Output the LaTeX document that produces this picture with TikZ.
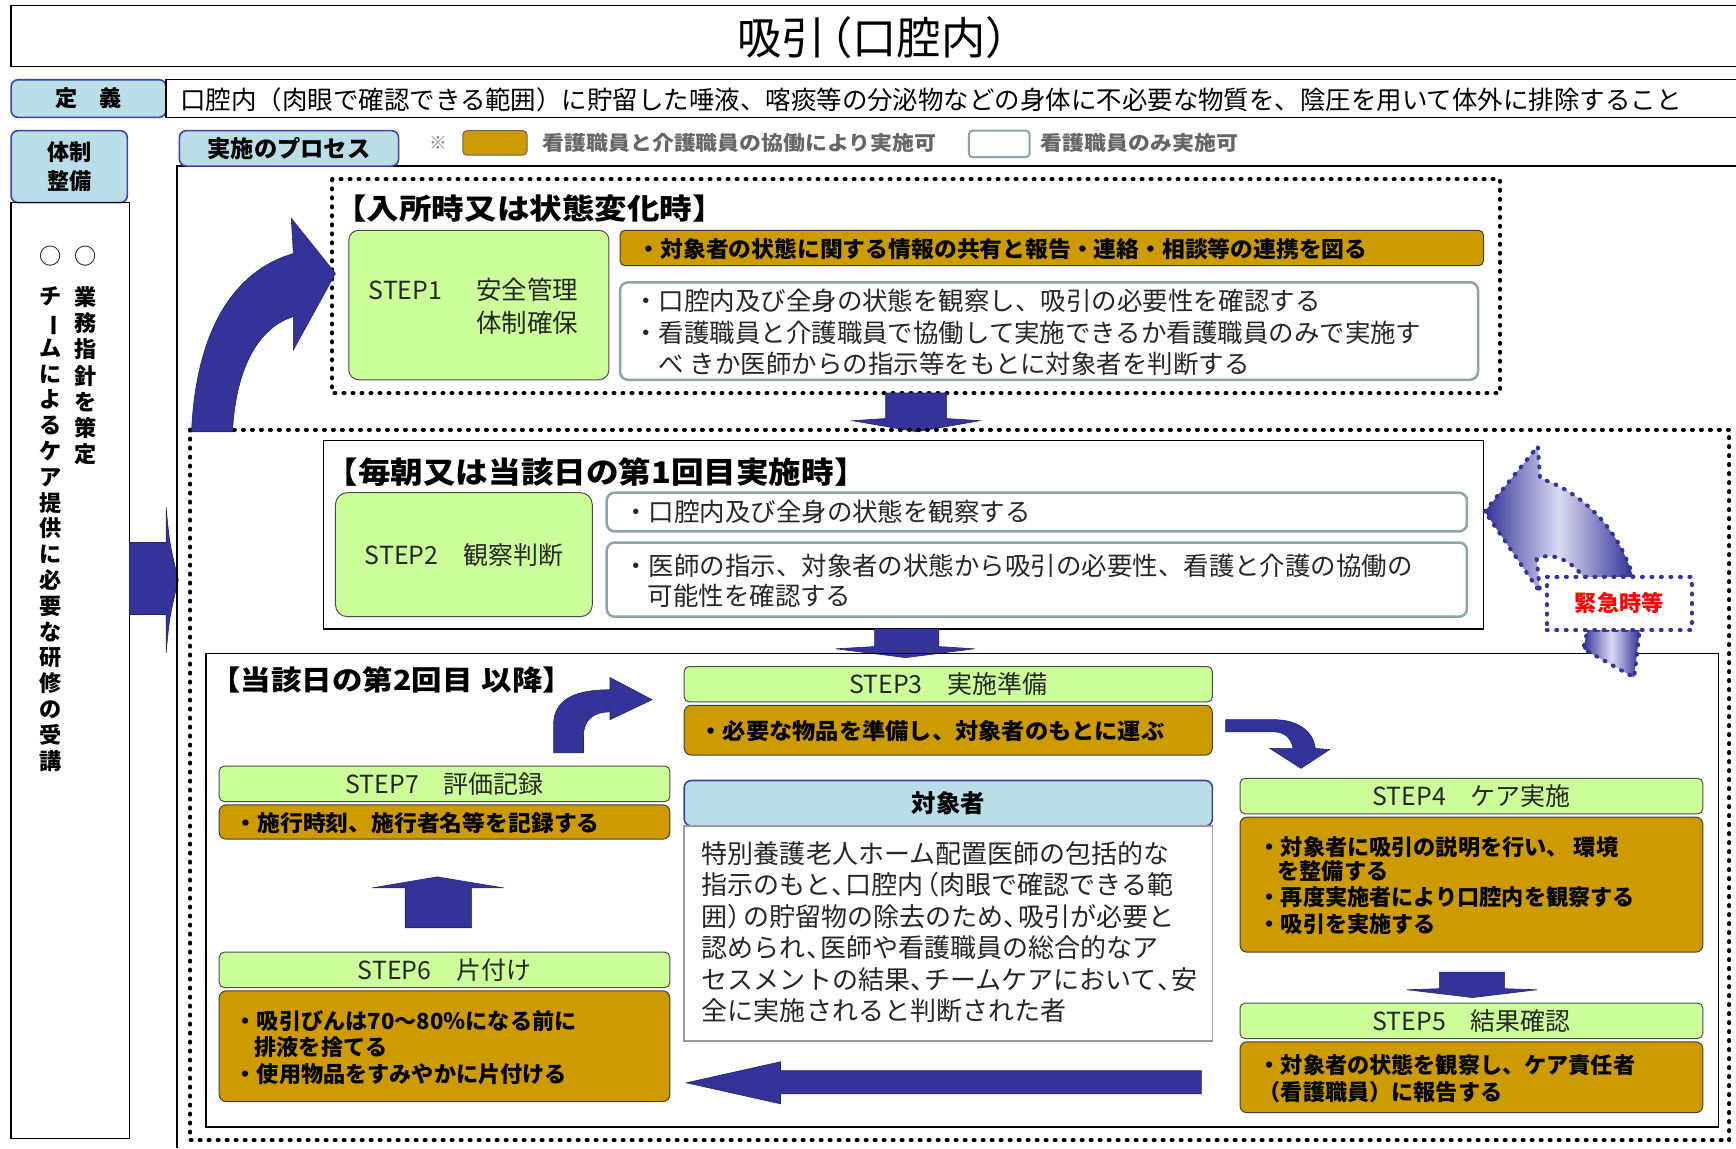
\documentclass[tikz,border=0pt]{standalone}
\usepackage{fontspec}
\setmainfont{Noto Sans CJK JP}
\usepackage{graphicx}
\usetikzlibrary{fit}
\definecolor{gold}{RGB}{205,155,0}
\definecolor{lgreen}{RGB}{204,255,153}
\definecolor{lblue}{RGB}{185,222,232}
\definecolor{navy}{RGB}{51,51,153}
\definecolor{bordblue}{RGB}{64,64,168}
\definecolor{graybord}{RGB}{140,165,168}
\definecolor{lav}{RGB}{218,218,242}
\newcommand\fsz[2]{\pgfmathsetmacro\fszA{#1*1.10714}\pgfmathsetmacro\fszB{#2*1.10714}\fontsize{\fszA pt}{\fszB pt}\selectfont}
\newcommand\tou{\makebox[0.55em][l]{、}}
\newcommand\kl{\makebox[0.6em][r]{（}}
\newcommand\kr{\makebox[0.6em][l]{）}}
\begin{document}
\begin{tikzpicture}[x=1.10714pt,y=-1.10714pt,
  every node/.style={inner sep=0pt,outer sep=0pt},
  greenbar/.style={draw=black!70,line width=1pt,fill=lgreen,rounded corners=5pt},
  goldbox/.style={draw=black!75,line width=1pt,fill=gold,rounded corners=7pt},
  whitebox/.style={draw=graybord,line width=2.5pt,fill=white,rounded corners=8pt},
  labelbox/.style={draw=bordblue,line width=1.6pt,fill=lblue,rounded corners=7pt},
  dotframe/.style={line width=4pt,dash pattern=on 1pt off 8pt,line cap=round},
  bluedots/.style={draw=navy,line width=4pt,dash pattern=on 1pt off 8.5pt,line cap=round},
  blockarrow/.style={fill=navy,draw=navy!70!black,line width=0.6pt},
  gtxt/.style={font={\fsz{20}{23}\bfseries},anchor=west,text=black},
  wtxt/.style={font={\fsz{23}{28}},anchor=west,text=black!85},
  steptxt/.style={font={\fsz{22.5}{22.5}},text=black!85},
  head/.style={font={\fsz{26}{26}\bfseries},anchor=west,text=black}
]
\useasboundingbox (0,0) rectangle (1568,1037);
\fill[white] (0,0) rectangle (1568,1037);

% ---------- title
\draw[line width=1.8pt] (1568,5) -- (10,5) -- (10,60) -- (1568,60);
\node[font={\fsz{40}{44}}] (title) at (790,34) {吸引\kl 口腔内\kr};

% ---------- definition
\node[labelbox,fit={(10,72) (150,106)}] (defl) {};
\node[font={\fsz{20}{20}\bfseries}] (defltxt) at (defl.center) {定\quad 義};
\draw[line width=1.2pt] (1568,72) -- (150,72) -- (150,106) -- (1568,106);
\node[font={\fsz{23}{23}},anchor=west] (deftxt) at (163,90) {口腔内（肉眼で確認できる範囲）に貯留した唾液、喀痰等の分泌物などの身体に不必要な物質を、陰圧を用いて体外に排除すること};

% ---------- left column
\node[labelbox,fit={(10,118) (115,183)}] (taisei) {};
\node[font={\fsz{20}{26}\bfseries},align=center] (taiseitxt) at (taisei.center) {体制\\整備};
\node[draw,line width=1.3pt,fit={(10,183) (117,1028)}] (leftcol) {};
\node[font={\fsz{20}{20}}] (o1) at (77,231) {○};
\node[font={\fsz{20}{20}}] (o2) at (46,231) {○};
\node[font={\fsz{20}{23.6}\bfseries},align=center,anchor=north] (v1) at (77,259) {業\\務\\指\\針\\を\\策\\定};
\node[font={\fsz{20}{23.3}\bfseries},align=center,anchor=north] (v2) at (46,259) {チ\\\rotatebox[origin=c]{-90}{ー}\\ム\\に\\よ\\る\\ケ\\ア\\提\\供\\に\\必\\要\\な\\研\\修\\の\\受\\講};
\draw[blockarrow] (117,490) -- (150,490) -- (150,458) .. controls (153,490) .. (161,524) .. controls (153,558) .. (150,590) -- (150,555) -- (117,555) -- cycle;

% ---------- process frame + legend
\draw[line width=1.3pt] (1568,150) -- (160,150) -- (160,1037);
\node[labelbox,fit={(162,118) (360,150)}] (proc) {};
\node[font={\fsz{21}{21}\bfseries}] (proctxt) at (proc.center) {実施のプロセス};
\node[font={\fsz{16}{16}},text=black!50] (kome) at (396,129) {※};
\node[draw=black!60,line width=1pt,fill=gold,rounded corners=4pt,fit={(418,118) (476,140)}] (leg1) {};
\node[font={\fsz{18}{18}\bfseries},text=black!60,anchor=west] (leg1txt) at (490,129) {\scalebox{1.1}[1]{看護職員と介護職員の協働により実施可}};
\node[draw=graybord,line width=2pt,fill=white,rounded corners=4pt,fit={(875,118) (930,142)}] (leg2) {};
\node[font={\fsz{18}{18}\bfseries},text=black!60,anchor=west] (leg2txt) at (940,129) {\scalebox{1.1}[1]{看護職員のみ実施可}};

% ---------- frame 1
\draw[dotframe] (300,162) rectangle (1355,355);
\node[head] (h1) at (302,188) {\scalebox{1.13}[1]{【入所時又は状態変化時】}};
\node[greenbar,rounded corners=10pt,fit={(315,208) (550,343)}] (s1) {};
\node[steptxt,anchor=west] (s1a) at (333,262) {STEP1};
\node[steptxt,anchor=west,font={\fsz{23}{23}}] (s1b) at (430,262) {安全管理};
\node[steptxt,anchor=west,font={\fsz{23}{23}}] (s1c) at (430,292) {体制確保};
\node[goldbox,rounded corners=5pt,fit={(560,208) (1340,240)}] (g1) {};
\node[gtxt] (g1t) at (576,225) {\scalebox{1.03}[1]{・対象者の状態に関する情報の共有と報告・連絡・相談等の連携を図る}};
\node[whitebox,fit={(560,255) (1335,343)}] (w1) {};
\node[wtxt] (w1a) at (572,272) {・口腔内及び全身の状態を観察し、吸引の必要性を確認する};
\node[wtxt] (w1b) at (572,301) {・看護職員と介護職員で協働して実施できるか看護職員のみで実施す};
\node[wtxt] (w1c) at (595,329) {べ きか医師からの指示等をもとに対象者を判断する};

% down arrow 1
\draw[blockarrow] (800,355) -- (855,355) -- (855,378) -- (885,380) -- (828,390) -- (770,380) -- (800,378) -- cycle;

% ---------- frame 2 (dotted)
\draw[dotframe] (172,388) rectangle (1562,1030);

% STEP2 frame
\node[draw,line width=1.4pt,fill=white,fit={(292,398) (1340,568)}] (f2) {};
\node[head,font={\fsz{27}{27}\bfseries}] (h2) at (294,426) {\scalebox{1.09}[1]{【毎朝又は当該日の第1回目実施時】}};
\node[greenbar,rounded corners=12pt,fit={(303,445) (535,557)}] (s2) {};
\node[steptxt] (s2t) at (s2.center) {STEP2\quad 観察判断};
\node[whitebox,fit={(548,445) (1325,480)}] (w2a) {};
\node[wtxt] (w2at) at (563,462) {・口腔内及び全身の状態を観察する};
\node[whitebox,fit={(548,490) (1325,557)}] (w2b) {};
\node[wtxt] (w2bt1) at (563,511) {・医師の指示、対象者の状態から吸引の必要性、看護と介護の協働の};
\node[wtxt] (w2bt2) at (585,538) {可能性を確認する};

% down arrow 2
\draw[blockarrow] (790,568) -- (848,568) -- (848,584) -- (880,586) -- (818,594) -- (755,586) -- (790,584) -- cycle;

% ---------- frame 3
\node[draw,line width=1.3pt,fit={(186,590) (1552,1018)}] (f3) {};
\node[head,font={\fsz{25}{25}\bfseries}] (h3) at (190,614) {\scalebox{1.1}[1]{【当該日の第2回目\hspace{0.3em}以降】}};

% STEP3
\node[greenbar,fit={(618,602) (1095,634)}] (s3) {};
\node[steptxt] (s3t) at (s3.center) {STEP3\quad 実施準備};
\node[goldbox,fit={(618,637) (1095,682)}] (g3) {};
\node[gtxt] (g3t) at (632,660) {\scalebox{1.05}[1]{・必要な物品を準備し、対象者のもとに運ぶ}};

% target person
\node[labelbox,fit={(618,705) (1095,746)}] (tgt) {};
\node[font={\fsz{22}{22}\bfseries}] (tgtt) at (tgt.center) {対象者};
\node[draw=black!40,line width=1.6pt,fill=white,fit={(618,746) (1095,940)}] (tgtb) {};
\node[font={\fsz{23.5}{28.4}},align=left,anchor=north west,text=black!85] (tgtbt) at (634,760) {特別養護老人ホーム配置医師の包括的な\\指示のもと\tou 口腔内\kl 肉眼で確認できる範\\囲\kr の貯留物の除去のため\tou 吸引が必要と\\認められ\tou 医師や看護職員の総合的なア\\セスメントの結果\tou チームケアにおいて\tou 安\\全に実施されると判断された者};

% STEP7
\node[greenbar,fit={(198,692) (605,724)}] (s7) {};
\node[steptxt] (s7t) at (s7.center) {STEP7\quad 評価記録};
\node[goldbox,fit={(198,727) (605,758)}] (g7) {};
\node[gtxt] (g7t) at (212,743) {\scalebox{1.03}[1]{・施行時刻、施行者名等を記録する}};

% STEP6
\node[greenbar,fit={(198,860) (605,892)}] (s6) {};
\node[steptxt] (s6t) at (s6.center) {STEP6\quad 片付け};
\node[goldbox,fit={(198,895) (605,995)}] (g6) {};
\node[gtxt] (g6a) at (212,922) {・吸引びんは70～80％になる前に};
\node[gtxt] (g6b) at (230,946) {排液を捨てる};
\node[gtxt] (g6c) at (212,970) {・使用物品をすみやかに片付ける};

% STEP4
\node[greenbar,fit={(1120,703) (1538,735)}] (s4) {};
\node[steptxt] (s4t) at (s4.center) {STEP4\quad ケア実施};
\node[goldbox,fit={(1120,738) (1538,860)}] (g4) {};
\node[gtxt] (g4a) at (1137,765) {・対象者に吸引の説明を行い、 環境};
\node[gtxt] (g4b) at (1154,787) {を整備する};
\node[gtxt] (g4c) at (1137,810) {・再度実施者により口腔内を観察する};
\node[gtxt] (g4d) at (1137,835) {・吸引を実施する};

% STEP5
\node[greenbar,fit={(1120,906) (1538,938)}] (s5) {};
\node[steptxt] (s5t) at (s5.center) {STEP5\quad 結果確認};
\node[goldbox,fit={(1120,941) (1538,1005)}] (g5) {};
\node[gtxt] (g5a) at (1137,962) {・対象者の状態を観察し、ケア責任者};
\node[gtxt] (g5b) at (1137,986) {（看護職員）に報告する};

% arrows inside frame 3
\draw[blockarrow] (500,680) -- (500,655) .. controls (500,630) and (522,623) .. (551,623) -- (551,612) -- (589,632) -- (551,650) -- (551,643) .. controls (536,643) and (527,650) .. (527,665) -- (527,680) -- cycle;
\draw[blockarrow] (1107,650) -- (1150,650) .. controls (1172,650) and (1186,660) .. (1188,676) -- (1201,677) -- (1175,694) -- (1147,676) -- (1168,676) .. controls (1166,666) and (1160,661) .. (1150,661) -- (1107,661) -- cycle;
\draw[blockarrow] (1300,878) -- (1359,878) -- (1359,893) -- (1388,894) -- (1330,901) -- (1271,894) -- (1300,893) -- cycle;
\draw[blockarrow] (366,838) -- (366,802) -- (336,802) -- (395,792) -- (455,802) -- (426,802) -- (426,838) -- cycle;
\draw[blockarrow] (1085,967) -- (705,967) -- (705,959) -- (620,978) -- (705,997) -- (705,988) -- (1085,988) -- cycle;

% big curved arrow to STEP1
\draw[blockarrow] (173,390) .. controls (177,300) and (210,245) .. (265,229) -- (263,197) -- (303,247) -- (265,316) -- (265,286) .. controls (235,295) and (213,330) .. (210,390) -- cycle;

% emergency arrow
\shadedraw[left color=navy,right color=navy,middle color=lav,bluedots]
  (1341,462) -- (1389,403) -- (1391,432) .. controls (1430,445) and (1462,478) .. (1475,521) -- (1430,521) .. controls (1418,505) and (1400,498) .. (1388,505) -- (1391,535) -- cycle;
\shadedraw[left color=navy,right color=navy,middle color=lav,bluedots]
  (1434,569) -- (1481,569) -- (1476,612) -- (1430,586) -- cycle;
\node[bluedots,fill=white,fit={(1397,521) (1528,569)}] (kin) {};
\node[font={\fsz{20}{20}\bfseries},text=red] (kint) at (kin.center) {緊急時等};
\end{tikzpicture}
\end{document}
